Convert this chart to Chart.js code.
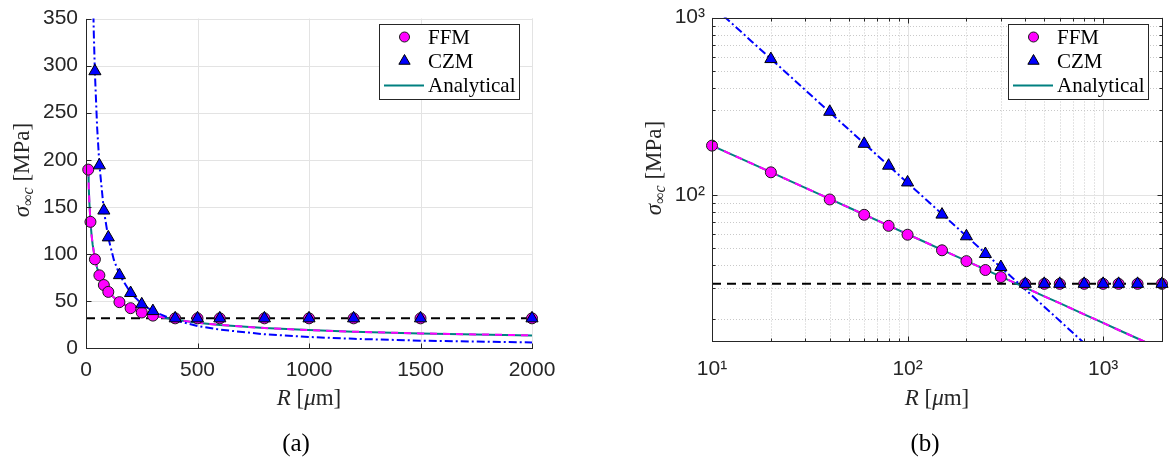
<!DOCTYPE html>
<html><head><meta charset="utf-8">
<script src="https://cdn.jsdelivr.net/npm/chart.js@4/dist/chart.umd.min.js"></script>
<style>
html,body{margin:0;padding:0;background:#fff;}
#wrap{position:relative;width:1171px;height:465px;overflow:hidden;}
#cA{position:absolute;left:0;top:0;}
#cB{position:absolute;left:600px;top:0;}
</style></head><body>
<div id="wrap">
<canvas id="cA" width="600" height="465"></canvas>
<canvas id="cB" width="571" height="465"></canvas>
</div>
<script>
// ---------------- data ----------------
const ffmR      = [10, 20, 40, 60, 80, 100, 150, 200, 250, 300, 400, 500, 600, 800, 1000, 1200, 1500, 2000];
const ffmStress = [189.5, 134, 94.2, 77.2, 66.9, 59.6, 48.7, 42.3, 37.7, 34.4, 31.5, 31.5, 31.5, 31.5, 31.5, 31.5, 31.5, 31.5];

const czmR      = [20, 40, 60, 80, 100, 150, 200, 250, 300, 400, 500, 600, 800, 1000, 1200, 1500, 2000];
const czmStress = [583, 294, 194, 146, 117.5, 77.4, 58.4, 46.4, 39.2, 31.5, 31.5, 31.5, 31.5, 31.5, 31.5, 31.5, 31.5];

const analyticalR      = [10, 12, 15, 20, 25, 30, 40, 50, 60, 80, 100, 125, 150, 200, 250, 300, 400, 500, 600, 800, 1000, 1200, 1500, 2000];
const analyticalStress = [189.7, 173.2, 154.9, 134.2, 120.0, 109.5, 94.9, 84.9, 77.5, 67.1, 60.0, 53.7, 49.0, 42.4, 37.9, 34.6, 30.0, 26.8, 24.5, 21.2, 19.0, 17.3, 15.5, 13.4];

const czmCurveR      = [10, 11, 12, 14, 16, 18, 20, 25, 30, 35, 40, 50, 60, 80, 100, 125, 150, 200, 250, 300, 400, 500, 600, 800, 1000, 1200, 1500, 2000];
const czmCurveStress = [1170, 1064, 975, 836, 731, 650, 585, 468, 390, 334, 292, 234, 195, 146, 117, 93.6, 78, 58.5, 46.8, 39, 29.3, 23.4, 19.5, 14.6, 11.7, 9.75, 7.8, 5.85];

const thresholdStress = 31.5;

// axes ticks
const linTicksX  = [0, 500, 1000, 1500, 2000];
const linLabelsX = ['0', '500', '1000', '1500', '2000'];
const linTicksY  = [0, 50, 100, 150, 200, 250, 300, 350];
const linLabelsY = ['0', '50', '100', '150', '200', '250', '300', '350'];
const logTicksX  = [10, 100, 1000];
const logLabelsX = ['10\u00B9', '10\u00B2', '10\u00B3'];
const logTicksY  = [100, 1000];
const logLabelsY = ['10\u00B2', '10\u00B3'];
const logMinorX  = [20, 30, 40, 50, 60, 70, 80, 90, 200, 300, 400, 500, 600, 700, 800, 900, 2000];
const logMinorY  = [20, 30, 40, 50, 60, 70, 80, 90, 200, 300, 400, 500, 600, 700, 800, 900];

const legendLabels = ['FFM', 'CZM', 'Analytical'];
// --------------------------------------------------------------

const pts = (xs, ys) => xs.map((x, i) => ({x: x, y: ys[i]}));
const TICK_COLOR = '#262626';
const SANS = '"Liberation Sans", Arial, sans-serif';
const SERIF = '"Liberation Serif", "Times New Roman", serif';

function datasets(xLo, xHi) {
  return [
    {label: 'threshold', data: pts([xLo, xHi], [thresholdStress, thresholdStress]), showLine: true,
     borderColor: '#000', borderWidth: 2, borderDash: [9, 6], pointRadius: 0, order: 10},
    {label: 'Analytical', data: pts(analyticalR, analyticalStress), showLine: true,
     borderColor: '#008080', borderWidth: 2, pointRadius: 0, order: 9},
    {label: 'FFM curve', data: pts(analyticalR, analyticalStress), showLine: true,
     borderColor: '#ff00ff', borderWidth: 2, borderDash: [7, 6], pointRadius: 0, order: 8},
    {label: 'CZM curve', data: pts(czmCurveR, czmCurveStress), showLine: true,
     borderColor: '#0000ff', borderWidth: 2, borderDash: [8, 3, 2, 3], pointRadius: 0, order: 7},
    {label: 'FFM', data: pts(ffmR, ffmStress), showLine: false, pointStyle: 'circle', pointRadius: 5.5,
     backgroundColor: '#ff00ff', borderColor: '#1a1a1a', borderWidth: 1, order: 6, clip: false},
    {label: 'CZM', data: pts(czmR, czmStress), showLine: false, pointStyle: 'triangle', pointRadius: 7,
     backgroundColor: '#0000ff', borderColor: '#000', borderWidth: 1, order: 5, clip: false}
  ];
}

function line(ctx, x1, y1, x2, y2) { ctx.beginPath(); ctx.moveTo(x1, y1); ctx.lineTo(x2, y2); ctx.stroke(); }
const snap = v => Math.round(v) + 0.5;

function drawRich(ctx, parts, cx, baseline) {
  let w = 0;
  parts.forEach(p => { ctx.font = p.f; p.w = ctx.measureText(p.t).width; w += p.w; });
  let x = cx - w / 2;
  ctx.textAlign = 'left'; ctx.textBaseline = 'alphabetic';
  parts.forEach(p => { ctx.font = p.f; ctx.fillText(p.t, x, baseline + (p.dy || 0)); x += p.w; });
}

function decor(cfg) {
  return {
    id: 'decor',
    beforeDatasetsDraw(chart) {
      const {ctx, chartArea: a} = chart;
      const x = chart.scales.x, y = chart.scales.y;
      ctx.save();
      ctx.lineWidth = 1;
      if (cfg.minorX) {
        ctx.strokeStyle = '#c9c9c9'; ctx.setLineDash([1, 2]);
        cfg.minorX.forEach(v => { const p = snap(x.getPixelForValue(v)); line(ctx, p, a.top, p, a.bottom); });
        cfg.minorY.forEach(v => { const p = snap(y.getPixelForValue(v)); line(ctx, a.left, p, a.right, p); });
      }
      ctx.setLineDash([]); ctx.strokeStyle = '#e3e3e3';
      cfg.ticksX.forEach(v => { const p = snap(x.getPixelForValue(v)); line(ctx, p, a.top, p, a.bottom); });
      cfg.ticksY.forEach(v => { const p = snap(y.getPixelForValue(v)); line(ctx, a.left, p, a.right, p); });
      if (cfg.edgeGrid) {
        line(ctx, snap(a.right), a.top, snap(a.right), a.bottom);
        line(ctx, a.left, snap(a.top), a.right, snap(a.top));
      }
      ctx.restore();
    },
    afterDatasetsDraw(chart) {
      const {ctx, chartArea: a} = chart;
      const x = chart.scales.x, y = chart.scales.y;
      ctx.save();
      ctx.strokeStyle = TICK_COLOR; ctx.lineWidth = 1; ctx.setLineDash([]);
      const L = snap(a.left), B = snap(a.bottom), R = snap(a.right), T = snap(a.top);
      line(ctx, L, T - 0.5, L, B + 0.5);
      line(ctx, L - 0.5, B, R + 0.5, B);
      if (cfg.box) { line(ctx, R, T - 0.5, R, B + 0.5); line(ctx, L - 0.5, T, R + 0.5, T); }
      const maj = 5, mnr = 3;
      cfg.ticksX.forEach(v => { const p = snap(x.getPixelForValue(v));
        line(ctx, p, B, p, B - maj); if (cfg.box) line(ctx, p, T, p, T + maj); });
      cfg.ticksY.forEach(v => { const p = snap(y.getPixelForValue(v));
        line(ctx, L, p, L + maj, p); if (cfg.box) line(ctx, R, p, R - maj, p); });
      if (cfg.minorX) {
        cfg.minorX.forEach(v => { const p = snap(x.getPixelForValue(v));
          line(ctx, p, B, p, B - mnr); line(ctx, p, T, p, T + mnr); });
        cfg.minorY.forEach(v => { const p = snap(y.getPixelForValue(v));
          line(ctx, L, p, L + mnr, p); line(ctx, R, p, R - mnr, p); });
      }
      ctx.restore();
    },
    afterDraw(chart) {
      const {ctx, chartArea: a} = chart;
      const ds = chart.data.datasets;
      ctx.save();
      // legend
      const lx = cfg.legend.x, ly = cfg.legend.y, lw = 140, lh = 75;
      ctx.fillStyle = '#fff'; ctx.fillRect(lx, ly, lw, lh);
      ctx.strokeStyle = TICK_COLOR; ctx.lineWidth = 1;
      ctx.strokeRect(lx + 0.5, ly + 0.5, lw, lh);
      const rows = [ly + 13, ly + 37, ly + 61.5];
      const mx = lx + 25.5;
      // FFM marker
      ctx.fillStyle = ds[4].backgroundColor; ctx.strokeStyle = ds[4].borderColor;
      ctx.beginPath(); ctx.arc(mx, rows[0], 5, 0, Math.PI * 2); ctx.fill(); ctx.stroke();
      // CZM marker
      ctx.fillStyle = ds[5].backgroundColor; ctx.strokeStyle = ds[5].borderColor;
      const r = 6.5;
      ctx.beginPath();
      ctx.moveTo(mx, rows[1] - r);
      ctx.lineTo(mx + r * Math.sin(2 * Math.PI / 3), rows[1] - r * Math.cos(2 * Math.PI / 3));
      ctx.lineTo(mx + r * Math.sin(4 * Math.PI / 3), rows[1] - r * Math.cos(4 * Math.PI / 3));
      ctx.closePath(); ctx.fill(); ctx.stroke();
      // Analytical line
      ctx.strokeStyle = ds[1].borderColor; ctx.lineWidth = 2;
      line(ctx, lx + 5, rows[2], lx + 45, rows[2]);
      ctx.fillStyle = '#000'; ctx.font = '21px ' + SERIF;
      ctx.textAlign = 'left'; ctx.textBaseline = 'middle';
      legendLabels.forEach((t, i) => ctx.fillText(t, lx + 49, rows[i] + 1));
      // x title
      ctx.fillStyle = TICK_COLOR;
      const cxm = (a.left + a.right) / 2;
      drawRich(ctx, [
        {t: 'R', f: 'italic 23px ' + SERIF},
        {t: ' [', f: '23px ' + SERIF},
        {t: '\u03BC', f: 'italic 23px ' + SERIF},
        {t: 'm]', f: '23px ' + SERIF}
      ], cxm, 405);
      // y title (rotated)
      ctx.save();
      ctx.translate(cfg.yTitleX, cfg.yTitleY);
      ctx.rotate(-Math.PI / 2);
      drawRich(ctx, [
        {t: '\u03C3', f: 'italic 23px ' + SERIF},
        {t: '\u221E', f: '16px ' + SERIF, dy: 4},
        {t: 'c', f: 'italic 16px ' + SERIF, dy: 4},
        {t: ' [MPa]', f: '23px ' + SERIF}
      ], 0, 0);
      ctx.restore();
      // caption
      ctx.fillStyle = '#000';
      ctx.font = '25px ' + SERIF; ctx.textAlign = 'center'; ctx.textBaseline = 'alphabetic';
      ctx.fillText(cfg.caption, cfg.captionX, 451);
      ctx.restore();
    }
  };
}

function scaleOpts(type, min, max, ticks, labels, fitKey, fitVal, pad, lh) {
  return {
    type: type, min: min, max: max,
    grid: {display: false, drawTicks: false},
    border: {display: false},
    afterBuildTicks: s => { s.ticks = ticks.map(v => ({value: v})); },
    afterFit: s => { s[fitKey] = fitVal; },
    ticks: {
      autoSkip: false, maxRotation: 0, minRotation: 0, padding: pad,
      color: TICK_COLOR, font: {family: SANS, size: 21, lineHeight: lh},
      callback: (v) => { const i = ticks.indexOf(v); return i >= 0 ? labels[i] : ''; }
    }
  };
}

const common = {
  responsive: false, animation: false, devicePixelRatio: 1,
  plugins: {legend: {display: false}, tooltip: {enabled: false}},
  elements: {line: {tension: 0}}
};

new Chart(document.getElementById('cA'), {
  type: 'scatter',
  data: {datasets: datasets(0, 2000)},
  options: Object.assign({}, common, {
    layout: {padding: {left: 0, top: 11, right: 68, bottom: 0}},
    scales: {
      x: scaleOpts('linear', 0, 2000, linTicksX, linLabelsX, 'height', 117, 10, 1.2),
      y: scaleOpts('linear', 0, 350, linTicksY, linLabelsY, 'width', 86, 8, 1.0)
    }
  }),
  plugins: [decor({ticksX: linTicksX, ticksY: linTicksY, box: false, edgeGrid: true,
    legend: {x: 379, y: 24}, yTitleX: 29, yTitleY: 170, caption: '(a)', captionX: 296})]
});

new Chart(document.getElementById('cB'), {
  type: 'scatter',
  data: {datasets: datasets(10, 2000)},
  options: Object.assign({}, common, {
    layout: {padding: {left: 0, top: 11, right: 9, bottom: 0}},
    scales: {
      x: scaleOpts('logarithmic', 10, 2000, logTicksX, logLabelsX, 'height', 124, 16, 1.2),
      y: scaleOpts('logarithmic', 15, 1000, logTicksY, logLabelsY, 'width', 112, 7, 1.0)
    }
  }),
  plugins: [decor({ticksX: logTicksX, ticksY: logTicksY, minorX: logMinorX, minorY: logMinorY, box: true,
    legend: {x: 408, y: 24}, yTitleX: 61, yTitleY: 168, caption: '(b)', captionX: 325})]
});
</script>
</body></html>
